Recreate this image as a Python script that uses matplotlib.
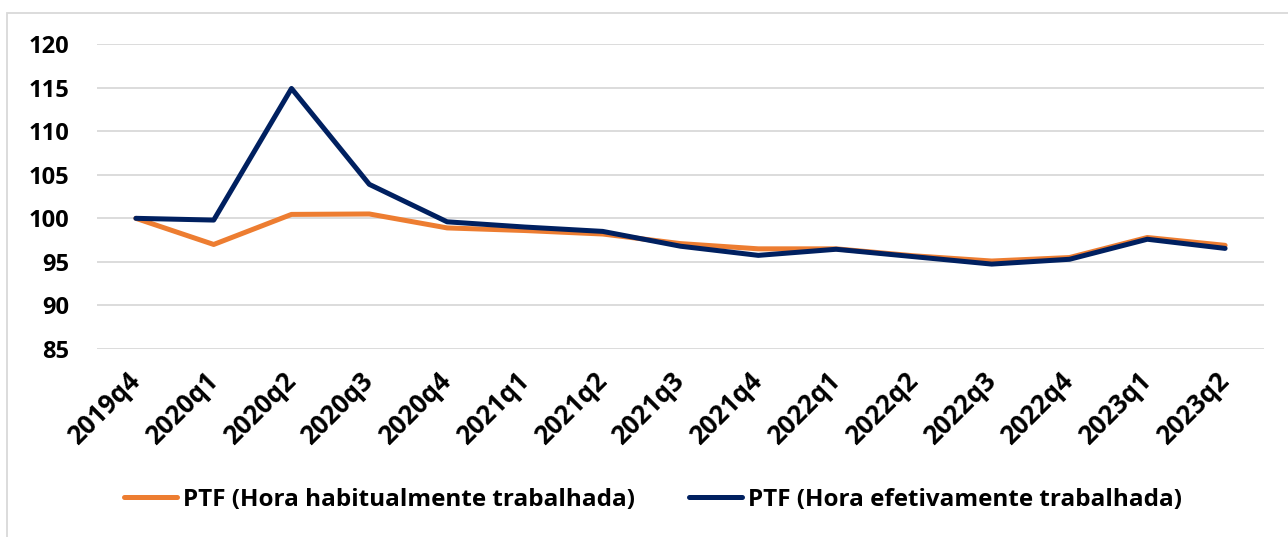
import numpy as np
import matplotlib.pyplot as plt
from matplotlib.patches import Rectangle

quarters = ['2019q4', '2020q1', '2020q2', '2020q3', '2020q4', '2021q1', '2021q2', '2021q3',
            '2021q4', '2022q1', '2022q2', '2022q3', '2022q4', '2023q1', '2023q2']
ptf_habitual = [100.0, 97.0, 100.45, 100.5, 98.9, 98.6, 98.2, 97.1,
                96.5, 96.5, 95.7, 95.1, 95.5, 97.8, 96.9]
ptf_efetiva = [100.0, 99.8, 114.9, 103.9, 99.6, 99.0, 98.5, 96.8,
               95.75, 96.45, 95.6, 94.75, 95.3, 97.6, 96.55]

plt.rcParams['font.family'] = ['Open Sans', 'DejaVu Sans']
plt.rcParams['font.weight'] = 'bold'

fig = plt.figure(figsize=(12.88, 5.37), dpi=100)
ax = fig.add_axes([97 / 1288, 0.350, 1167 / 1288, 0.568])

x = np.arange(len(quarters))
ax.plot(x, ptf_habitual, color='#ED7D31', lw=3.6, solid_capstyle='round',
        label='PTF (Hora habitualmente trabalhada)')
ax.plot(x, ptf_efetiva, color='#002060', lw=3.6, solid_capstyle='round',
        label='PTF (Hora efetivamente trabalhada)')

ax.set_xlim(-0.5, len(quarters) - 0.5)
ax.set_ylim(85, 120)
ax.set_yticks(np.arange(85, 121, 5))
ax.grid(axis='y', color='#D9D9D9', lw=1.3)
ax.set_axisbelow(True)
for s in ax.spines.values():
    s.set_visible(False)
ax.tick_params(length=0)
ax.tick_params(axis='y', pad=20, labelsize=17)
ax.set_xticks(x)
ax.set_xticklabels(quarters, rotation=45, ha='right', va='center', rotation_mode='anchor',
                   fontsize=18.5, fontweight='bold')
ax.tick_params(axis='x', pad=20)
for t in ax.get_yticklabels():
    t.set_fontweight('bold')

fig.legend(loc='center', bbox_to_anchor=(0.507, 0.069), ncol=2, frameon=False,
           prop={'size': 17.5, 'weight': 'bold'}, handlelength=2.2,
           handletextpad=0.25, columnspacing=2.2)

fig.patches.append(Rectangle((7 / 1288, -0.01), 1.0, 1 - 12.5 / 537 + 0.01,
                             transform=fig.transFigure, fill=False,
                             edgecolor='#D9D9D9', lw=1.3))

fig.savefig('out.png', dpi=100)
